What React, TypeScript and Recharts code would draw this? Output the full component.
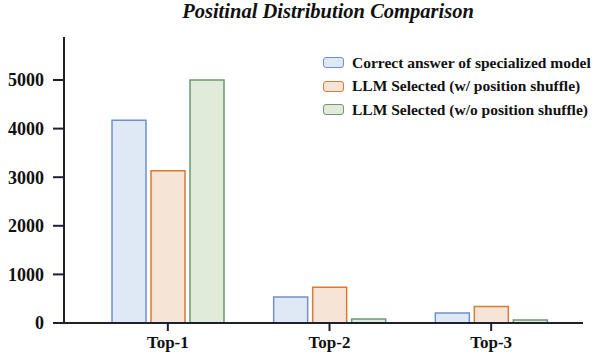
import { Bar, BarChart, XAxis, YAxis } from "recharts";

const positions = ["Top-1", "Top-2", "Top-3"];
const specializedCorrect = [4170, 535, 205];
const llmWithShuffle = [3135, 735, 340];
const llmWithoutShuffle = [5000, 80, 60];
const yTicks = [0, 1000, 2000, 3000, 4000, 5000];

const chartData = positions.map((pos, i) => ({
  pos,
  specialized: specializedCorrect[i],
  shuffle: llmWithShuffle[i],
  noShuffle: llmWithoutShuffle[i],
}));

const series = [
  { key: "specialized", name: "Correct answer of specialized model", stroke: "#7090d0", fill: "#dfe8f5" },
  { key: "shuffle", name: "LLM Selected (w/ position shuffle)", stroke: "#d97a35", fill: "#f6e4d7" },
  { key: "noShuffle", name: "LLM Selected (w/o position shuffle)", stroke: "#6a9a6e", fill: "#e0ebd9" },
];

const axisColor = "#1c2030";
const font = "'Liberation Serif', 'Times New Roman', serif";

// legend drawn outside the chart so it doesn't push the plot area down
function LegendBox() {
  return (
    <div
      style={{
        position: "absolute",
        left: 323,
        top: 51,
        fontFamily: font,
        fontWeight: "bold",
        fontSize: 15.5,
        color: "#111",
        whiteSpace: "nowrap",
      }}
    >
      {series.map((s) => (
        <div key={s.key} style={{ display: "flex", alignItems: "center", height: 23.5 }}>
          <span
            style={{
              display: "inline-block",
              width: 19,
              height: 9,
              border: `1.5px solid ${s.stroke}`,
              background: s.fill,
              borderRadius: 3,
              marginRight: 8,
            }}
          />
          <span>{s.name}</span>
        </div>
      ))}
    </div>
  );
}

export default function App() {
  return (
    <div style={{ position: "absolute", left: 0, top: 0, width: 598, height: 358, background: "#fff" }}>
      <div
        style={{
          position: "absolute",
          left: 0,
          top: 0,
          width: 598,
          boxSizing: "border-box",
          paddingLeft: 58,
          textAlign: "center",
          fontFamily: font,
          fontWeight: "bold",
          fontStyle: "italic",
          fontSize: 20.5,
          lineHeight: "normal",
          color: "#111",
          whiteSpace: "nowrap",
        }}
      >
        Positinal Distribution Comparison
      </div>
      <BarChart
        width={598}
        height={358}
        data={chartData}
        margin={{ top: 37, right: 15, bottom: 5, left: 0 }}
        barSize={34}
        barGap={5}
      >
        <XAxis
          dataKey="pos"
          padding={{ left: 23, right: 11 }}
          stroke={axisColor}
          strokeWidth={2}
          tickSize={8}
          tickMargin={5}
          height={30}
          tick={{ fill: "#111", fontFamily: font, fontWeight: "bold", fontSize: 17 }}
        />
        <YAxis
          domain={[0, 5885]}
          ticks={yTicks}
          width={64}
          stroke={axisColor}
          strokeWidth={2}
          tickSize={11}
          tickMargin={9}
          tick={{ fill: "#111", fontFamily: font, fontWeight: "bold", fontSize: 18 }}
        />
        {series.map((s) => (
          <Bar
            key={s.key}
            dataKey={s.key}
            name={s.name}
            fill={s.fill}
            stroke={s.stroke}
            strokeWidth={1.5}
            isAnimationActive={false}
          />
        ))}
      </BarChart>
      <LegendBox />
    </div>
  );
}
